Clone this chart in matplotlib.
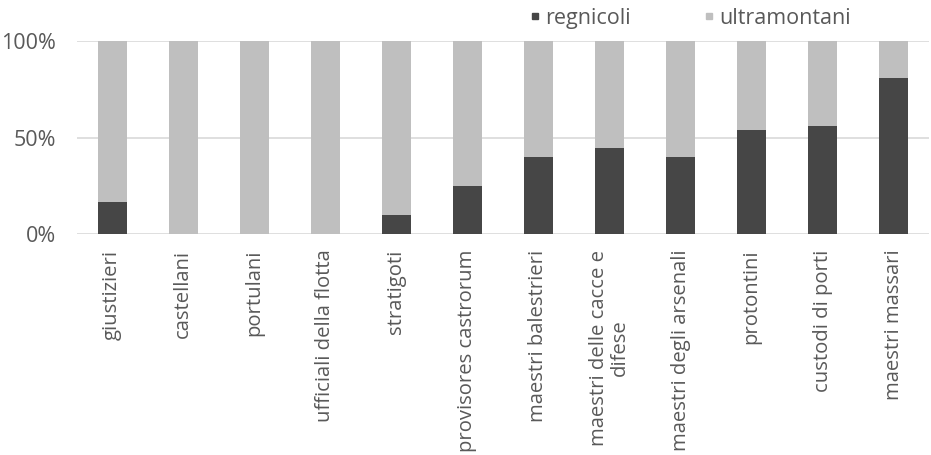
import matplotlib
matplotlib.use("Agg")
import matplotlib.pyplot as plt
import numpy as np
from matplotlib.lines import Line2D
from matplotlib.ticker import FixedLocator

categories = [
    "giustizieri", "castellani", "portulani", "ufficiali della flotta",
    "stratigoti", "provisores castrorum", "maestri balestrieri",
    "maestri delle cacce e\ndifese", "maestri degli arsenali",
    "protontini", "custodi di porti", "maestri massari",
]
regnicoli = [17, 0, 0, 0, 10, 25, 40, 45, 40, 54, 56, 81]
ultramontani = [100 - v for v in regnicoli]
series_names = ["regnicoli", "ultramontani"]
y_ticks = [0, 50, 100]
y_ticklabels = ["0%", "50%", "100%"]

dark = "#464646"
light = "#bfbfbf"
text_col = "#595959"

plt.rcParams["font.family"] = ["Open Sans", "DejaVu Sans"]

fig = plt.figure(figsize=(9.31, 4.55), dpi=100)
ax = fig.add_axes([0.0824, 0.485, 0.9156, 0.424])

x = np.arange(len(categories))
ax.bar(x, regnicoli, width=0.41, color=dark, zorder=3)
ax.bar(x, ultramontani, width=0.41, bottom=regnicoli, color=light, zorder=3)

ax.set_xlim(-0.5, len(categories) - 0.5)
ax.set_ylim(0, 100)
ax.yaxis.set_major_locator(FixedLocator(y_ticks))
ax.set_yticklabels(y_ticklabels, fontsize=15.5, color=text_col)
ax.set_xticks(x)
ax.set_xticklabels(categories, rotation=90, fontsize=14.6, color=text_col,
                   va="top", ha="center", linespacing=1.0)
ax.tick_params(axis="y", length=0, pad=15)
ax.tick_params(axis="x", length=0, pad=11)
ax.grid(axis="y", color="#d9d9d9", linewidth=1.2, zorder=0)
for s in ax.spines.values():
    s.set_visible(False)

# legend: small square markers like the Excel original
handles = [Line2D([], [], linestyle="none", marker="s", markersize=5,
                  markerfacecolor=c, markeredgecolor=c) for c in (dark, light)]
fig.legend(handles, series_names, loc="center", bbox_to_anchor=(0.742, 0.96),
           ncol=2, frameon=False, fontsize=15.5, handlelength=0.4,
           handletextpad=0.3, columnspacing=3.4, labelcolor=text_col)

fig.savefig("out.png", dpi=100)
